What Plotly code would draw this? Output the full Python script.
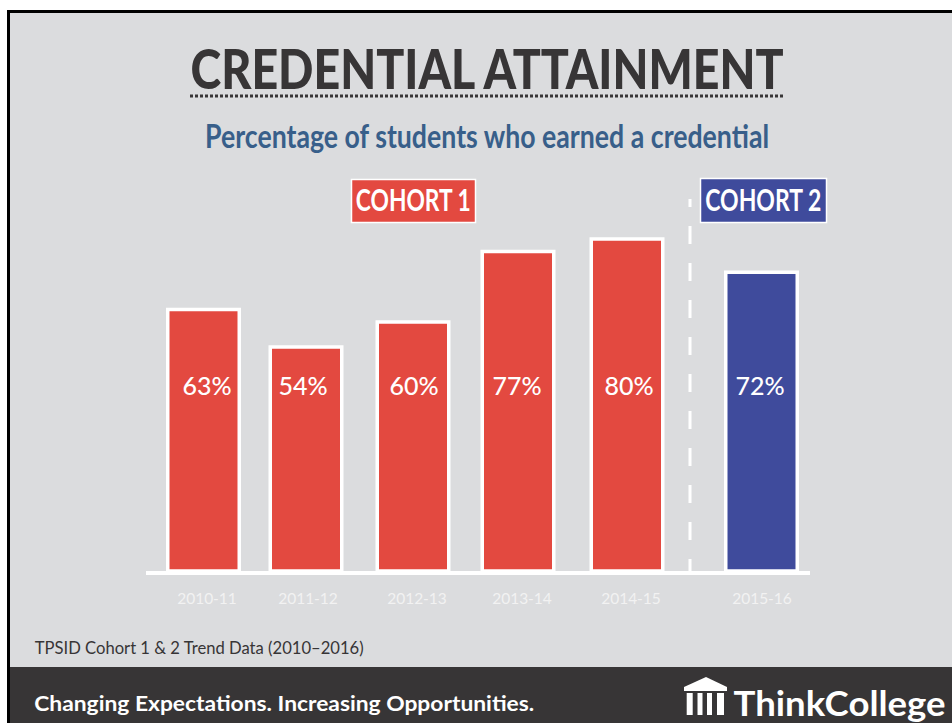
import json
import plotly.graph_objects as go

# Chart data
years = ["2010-11", "2011-12", "2012-13", "2013-14", "2014-15", "2015-16"]
credential_pct = [63, 54, 60, 77, 80, 72]
cohorts = [1, 1, 1, 1, 1, 2]

# Horizontal placement on the 952 px wide canvas
bar_centres = [203.5, 306, 413, 518, 627, 761.5]
value_label_x = [207, 303, 414, 517, 629, 760]
year_label_x = [207, 308, 417, 522, 631, 762]

W, H = 952, 723
RED, BLUE = "#e34940", "#3f4b9c"
DARK, GREY, NAVY = "#373536", "#dbdcde", "#385f8a"
FONT = "Lato"
BASE_PX, TOP_PX, PX_PER_PCT = 571, 173, 4.15

TITLE = "CREDENTIAL ATTAINMENT"
SUBTITLE = "Percentage of students who earned a credential"
SOURCE = "TPSID Cohort 1 & 2 Trend Data (2010–2016)"
TAGLINE = "Changing Expectations. Increasing Opportunities."
BRAND = "ThinkCollege"

# Set widths that condense the wide display font
text_widths = {TITLE: 593, SUBTITLE: 564, "COHORT 1": 115, "COHORT 2": 116,
               SOURCE: 329, TAGLINE: 500, BRAND: 212}


def px(x):
    return x / W


def py(y):
    return 1 - y / H


def rect(x0, y0, x1, y1, fill, line=None):
    return dict(type="rect", xref="paper", yref="paper", layer="below",
                x0=px(x0), x1=px(x1), y0=py(y1), y1=py(y0),
                fillcolor=fill,
                line=dict(color=line, width=1.5) if line else dict(width=0))


def path(points, fill):
    d = "M" + " L".join(f"{px(x):.5f},{py(y):.5f}" for x, y in points) + " Z"
    return dict(type="path", xref="paper", yref="paper", layer="above",
                path=d, fillcolor=fill, line_width=0)


def text(x, y, s, size, color, weight=400):
    return dict(xref="paper", yref="paper", x=px(x), y=py(y), text=s,
                showarrow=False, xanchor="center", yanchor="middle",
                font=dict(size=size, color=color, family=FONT, weight=weight))


fig = go.Figure()
fig.add_bar(
    x=bar_centres, y=credential_pct, width=71.5,
    marker=dict(color=[RED if c == 1 else BLUE for c in cohorts],
                line=dict(color="white", width=3.5)),
    hoverinfo="skip",
)
fig.add_scatter(
    x=value_label_x, y=[44] * len(years), mode="text",
    text=[f"{v}%" for v in credential_pct],
    textposition="middle center",
    textfont=dict(size=25, color="white", family=FONT, weight=500),
    hoverinfo="skip",
)

shapes = [
    rect(0, 0, W, H, "white"),
    rect(7, 10, W, H, "black"),
    rect(10, 13, W, H, GREY),
    rect(10, 667, W, H, DARK),
    # Cohort badges
    rect(351.5, 179.5, 475.5, 222.5, RED, "white"),
    rect(700.5, 178.5, 826.5, 222.5, BLUE, "white"),
    # Dotted rule under the title
    dict(type="line", xref="paper", yref="paper", layer="above",
         x0=px(190), x1=px(785), y0=py(96), y1=py(96),
         line=dict(color=DARK, width=3, dash="3px,2px")),
    # Divider between the two cohorts
    dict(type="line", xref="paper", yref="paper", layer="above",
         x0=px(690), x1=px(690), y0=py(199), y1=py(572),
         line=dict(color="white", width=3, dash="8px,19px," + "18px,19px," * 10 + "18px")),
    # Temple icon of the logo: roof and columns
    path([(684, 687), (706, 677), (727, 687), (727, 691), (684, 691)], "white"),
]
for x0, x1 in ((686.7, 692.7), (697.5, 702.5), (707, 712), (717, 724)):
    shapes.append(path([(x0, 693), (x1, 693), (x1, 715), (x0, 715)], "white"))

annotations = [
    text(487, 135.5, SUBTITLE, 32, NAVY, 700),
    text(413, 199, "COHORT 1", 31, "white", 700),
    text(763, 199, "COHORT 2", 31, "white", 700),
    text(198.5, 647, SOURCE.replace("&", "&amp;"), 18, DARK),
    text(284, 702, TAGLINE, 21, "white", 700),
    text(839, 702, BRAND, 34, "white", 700),
]

fig.update_layout(
    width=W, height=H, autosize=False,
    margin=dict(l=0, r=0, t=0, b=0),
    paper_bgcolor="white", plot_bgcolor="rgba(0,0,0,0)",
    showlegend=False,
    title=dict(text=TITLE,
               x=px(487), xanchor="center", xref="paper",
               y=py(69), yanchor="middle", yref="paper",
               font=dict(size=56, color=DARK, family=FONT, weight=900)),
    xaxis=dict(domain=[px(146), px(810)], range=[146, 810],
               tickmode="array", tickvals=year_label_x, ticktext=years,
               tickfont=dict(size=15.5, color="#f2f2f2", family=FONT),
               ticks="", ticklen=0, ticklabelstandoff=10,
               showgrid=False, zeroline=False,
               showline=True, linecolor="white", linewidth=4),
    yaxis=dict(domain=[py(BASE_PX), py(TOP_PX)],
               range=[0, (BASE_PX - TOP_PX) / PX_PER_PCT],
               visible=False),
    shapes=shapes, annotations=annotations,
)

# Fit the display texts to their set widths once the SVG exists
fit_widths = """
const widths = %s;
document.querySelectorAll('svg text').forEach(t => {
  const w = widths[t.textContent];
  if (w) {
    t.setAttribute('textLength', w);
    t.setAttribute('lengthAdjust', 'spacingAndGlyphs');
  }
});
""" % json.dumps(text_widths)

fig.write_html("out.html", config=dict(displayModeBar=False), post_script=fit_widths)
